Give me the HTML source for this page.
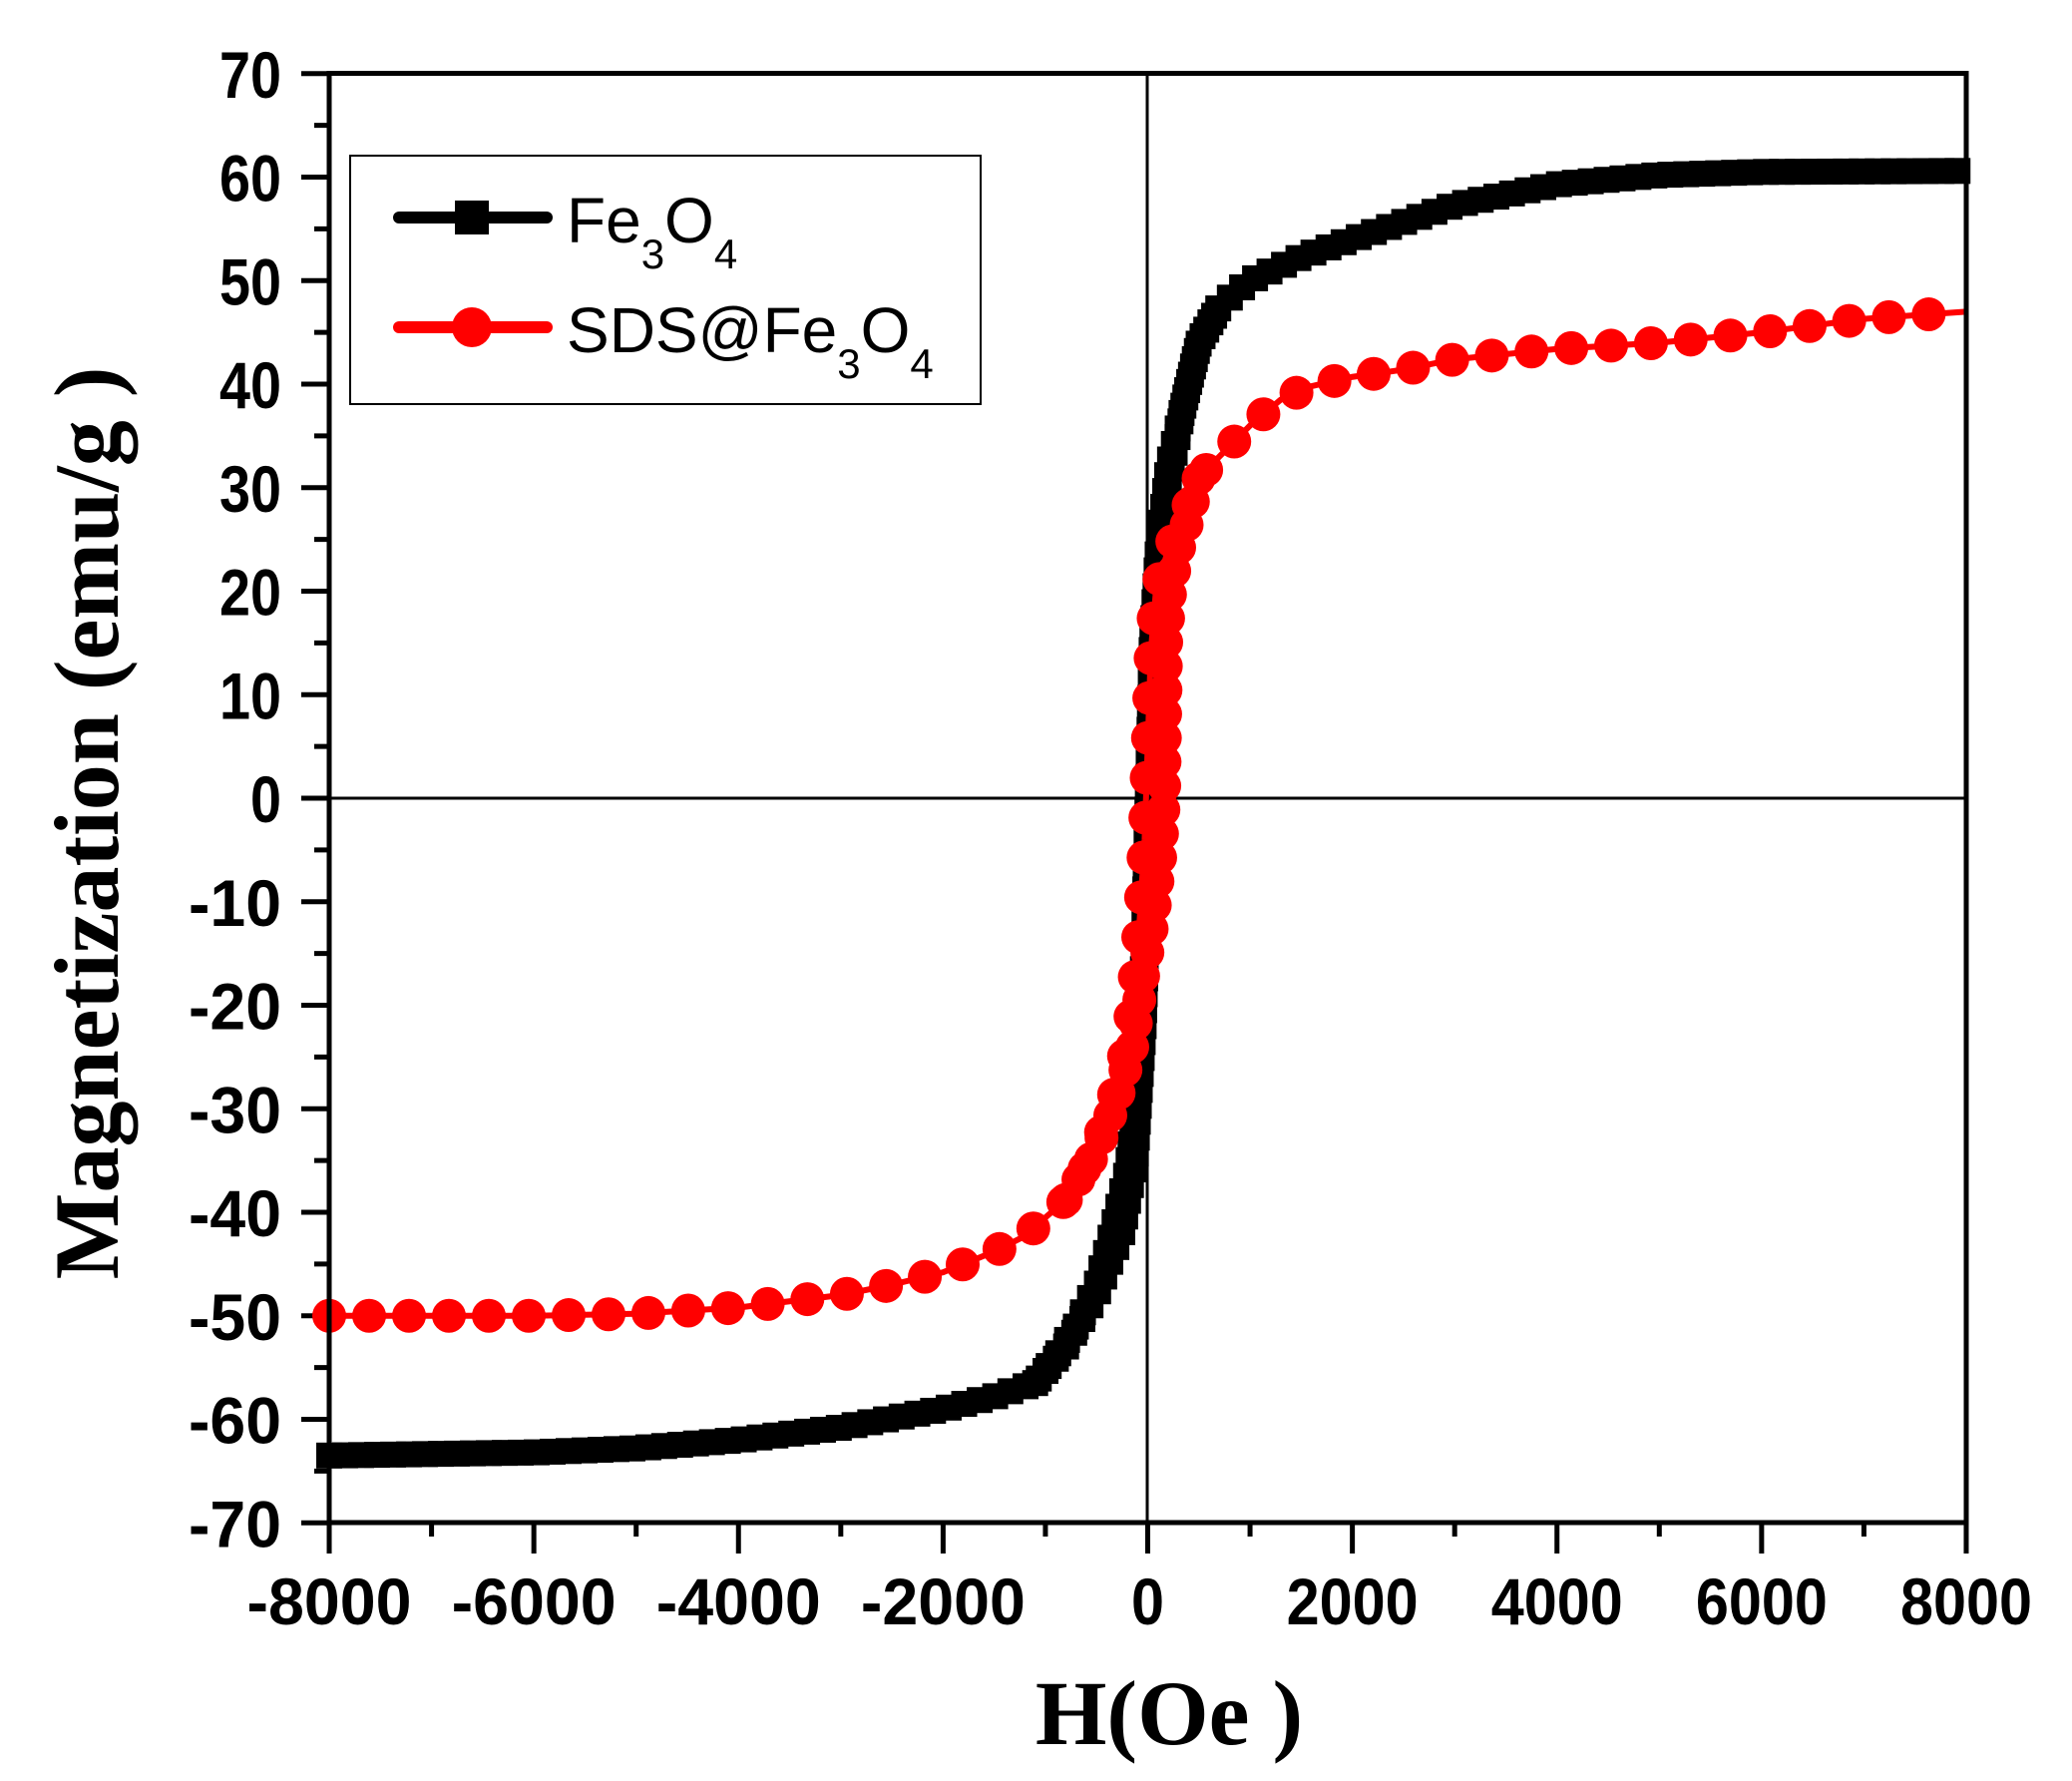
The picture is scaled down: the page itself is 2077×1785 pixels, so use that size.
<!DOCTYPE html>
<html><head><meta charset="utf-8"><style>
html,body{margin:0;padding:0;background:#fff;}
svg{display:block;}
</style></head><body>
<svg id="s" width="2077" height="1785" viewBox="0 0 2077 1785" xmlns="http://www.w3.org/2000/svg">
<rect width="2077" height="1785" fill="#fff"/>
<g id="ticks" stroke="#000" stroke-width="5"></g>
<line x1="330" y1="800" x2="1971" y2="800" stroke="#000" stroke-width="3"/>
<line x1="1150" y1="73.5" x2="1150" y2="1526" stroke="#000" stroke-width="3"/>
<g id="data"></g>
<rect x="330" y="73.5" width="1641" height="1452.5" fill="none" stroke="#000" stroke-width="5"/>
<g id="labels" font-family="Liberation Sans, Arial, sans-serif" font-weight="bold" font-size="66" fill="#000"></g>
<text x="1172" y="1748" text-anchor="middle" font-family="Liberation Serif, serif" font-weight="bold" font-size="92">H(Oe )</text>
<text transform="translate(118,825) rotate(-90)" text-anchor="middle" font-family="Liberation Serif, serif" font-weight="bold" font-size="92">Magnetization (emu/g )</text>
<rect x="351" y="156" width="632" height="249" fill="#fff" stroke="#000" stroke-width="2"/>
<line x1="400" y1="218" x2="548" y2="218" stroke="#000" stroke-width="12" stroke-linecap="round"/>
<rect x="456" y="201" width="34" height="34" fill="#000"/>
<line x1="400" y1="328" x2="548" y2="328" stroke="#f00" stroke-width="12" stroke-linecap="round"/>
<circle cx="473" cy="328" r="20" fill="#f00"/>
<g font-family="Liberation Sans, Arial, sans-serif" font-size="64" fill="#000">
<text x="568" y="243">Fe<tspan font-size="42" dy="26">3</tspan><tspan dy="-26">O</tspan><tspan font-size="42" dy="26">4</tspan></text>
<text x="568" y="353">SDS@Fe<tspan font-size="42" dy="26">3</tspan><tspan dy="-26">O</tspan><tspan font-size="42" dy="26">4</tspan></text>
</g>
</svg>
<script>
const NS="http://www.w3.org/2000/svg";
const X=h=>1150.5+h*0.10256, Y=v=>800-10.375*v;
function el(t,a,p){const e=document.createElementNS(NS,t);for(const k in a)e.setAttribute(k,a[k]);p.appendChild(e);return e;}
const T=document.getElementById('ticks'),L=document.getElementById('labels');
for(let v=-70;v<=70;v+=5){const y=Y(v),maj=v%10===0;
 el('line',{x1:330-(maj?28:15),y1:y,x2:330,y2:y},T);
 if(maj){const t=el('text',{x:282,y:y+24,'text-anchor':'end',textLength:String(v).length*31,lengthAdjust:'spacingAndGlyphs'},L);t.textContent=v;}}
for(let h=-8000;h<=8000;h+=1000){const x=X(h),maj=h%2000===0;
 el('line',{x1:x,y1:1526,x2:x,y2:1526+(maj?31:14)},T);
 if(maj){const t=el('text',{x:x,y:1628,'text-anchor':'middle',textLength:String(h).length*33,lengthAdjust:'spacingAndGlyphs'},L);t.textContent=h;}}
function path(pts){return pts.map(p=>[X(p[0]),Y(p[1])]);}
function resample(px,step){const out=[px[0]];let acc=0;
 for(let i=1;i<px.length;i++){let [x0,y0]=px[i-1],[x1,y1]=px[i];let d=Math.hypot(x1-x0,y1-y0);let t=0;
  while(acc+d*(1-t)>=step){const need=step-acc;t+=need/d;out.push([x0+(x1-x0)*t,y0+(y1-y0)*t]);acc=0;}
  acc+=d*(1-t);}return out;}
const fe=[[-8000,-63.5],[-6000,-63.2],[-5000,-62.8],[-4000,-62],[-3000,-60.8],[-2000,-59],[-1500,-57.8],[-1100,-56.5],[-900,-54],[-700,-51],[-500,-47],[-350,-42],[-200,-36],[-100,-28],[-40,-15],[0,0],[40,15],[100,24],[200,32],[350,38],[500,44],[700,47.5],[1000,50],[1500,52.3],[2000,54],[3000,57.3],[4000,59.3],[5000,60.2],[6000,60.5],[8000,60.6]];
const fe2=[[-1100,-56.5],[-800,-53],[-500,-48],[-250,-42],[-120,-35],[-40,-22],[0,-10],[50,8],[100,20],[200,30],[350,38],[500,44],[700,47.5]];
const sd=[[-8000,-50],[-7000,-50],[-6000,-50],[-5000,-49.8],[-4000,-49.2],[-3000,-48],[-2500,-47],[-2000,-45.8],[-1500,-43.8],[-1200,-42.3],[-1000,-40.5],[-800,-38.8],[-600,-35.5],[-400,-31],[-250,-26],[-150,-20],[-80,-12],[-30,-4],[0,5],[30,14],[80,20],[200,24],[350,27],[500,31],[700,33],[1000,36],[1300,38.5],[1600,39.8],[2000,40.7],[2500,41.4],[3000,42.4],[4000,43.4],[5000,44],[6000,45],[7000,46.3],[8000,47]];
const sd2=[[-800,-38.8],[-500,-34],[-300,-29],[-150,-24],[-60,-18],[50,-12],[130,-5],[160,0],[170,8],[180,15],[220,20],[300,24],[400,27],[500,31]];
const D=document.getElementById('data');
function draw(pts,color,step,square){const px=path(pts);
 el('polyline',{points:px.map(p=>p.join(',')).join(' '),fill:'none',stroke:color,'stroke-width':6},D);
 for(const [x,y] of resample(px,step)){
  if(square)el('rect',{x:x-13,y:y-13,width:26,height:26,fill:color},D);
  else el('circle',{cx:x,cy:y,r:17,fill:color},D);}}
draw(fe,'#000',16,true);draw(fe2,'#000',16,true);
draw(sd,'#f00',40,false);draw(sd2,'#f00',24,false);
</script>
</body></html>
